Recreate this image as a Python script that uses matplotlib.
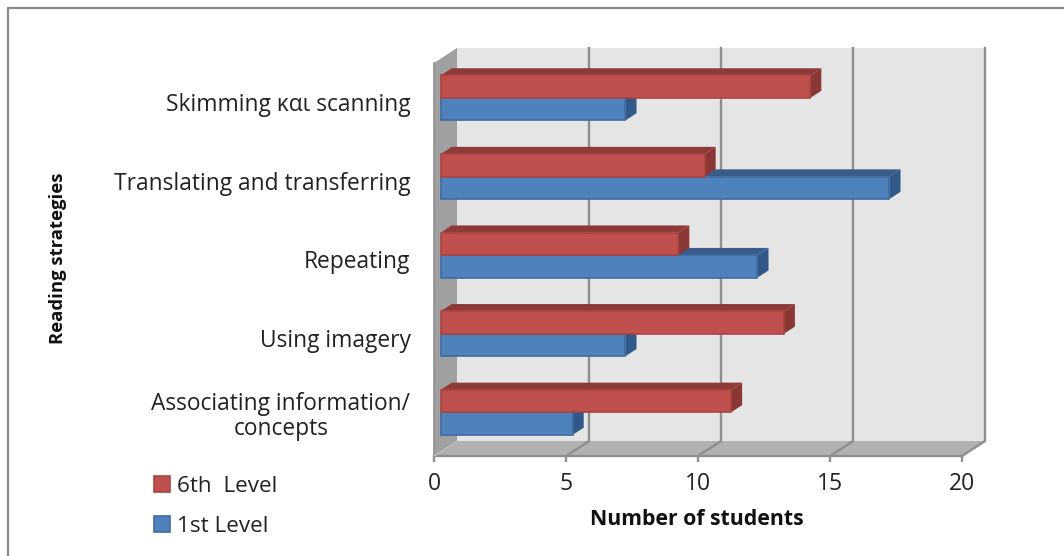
import matplotlib
matplotlib.use('Agg')
import matplotlib.pyplot as plt
from matplotlib.patches import Polygon
from matplotlib.transforms import ScaledTranslation

strategies = ['Associating information/\nconcepts', 'Using imagery', 'Repeating',
              'Translating and transferring', 'Skimming και scanning']
level_6th = [11, 13, 9, 10, 14]
level_1st = [5, 7, 12, 17, 7]
x_ticks = [0, 5, 10, 15, 20]

W, H = 1064, 556
fig = plt.figure(figsize=(W / 100, H / 100), dpi=100)
plt.rcParams['font.family'] = 'Open Sans'

# front plane of the 3d box, in pixels
left, right, top, bottom = 434, 962, 63, 456
ax = fig.add_axes([left / W, 1 - bottom / H, (right - left) / W, (bottom - top) / H])
ax.set_xlim(0, 20)
ax.set_ylim(0, 5)
for s in ax.spines.values():
    s.set_visible(False)
ax.patch.set_visible(False)

# box depth in data units
px_x = (right - left) / 20
px_y = (bottom - top) / 5
dx = 23 / px_x
dy = 15 / px_y

GRID = '#8e8e8e'


def face(points, color, z, edge='none', lw=0):
    ax.add_patch(Polygon(points, closed=True, facecolor=color, edgecolor=edge,
                         linewidth=lw, zorder=z, clip_on=False))


# walls and floor
face([(dx, dy), (20 + dx, dy), (20 + dx, 5 + dy), (dx, 5 + dy)], '#e5e5e5', 1)
face([(0, 0), (dx, dy), (dx, 5 + dy), (0, 5)], '#a0a0a0', 1)
face([(0, 0), (20, 0), (20 + dx, dy), (dx, dy)], '#b1b1b1', 1)

for t in x_ticks[1:]:
    ax.plot([t, t + dx, t + dx], [0, dy, 5 + dy], color=GRID, lw=1.7, zorder=2, clip_on=False)
ax.plot([0, 20], [0, 0], color=GRID, lw=1.7, zorder=2, clip_on=False)
ax.plot([0, 0], [0, 5], color=GRID, lw=1.2, zorder=2, clip_on=False)
ax.plot([0, dx], [0, dy], color='#bdbdbd', lw=1, zorder=2, clip_on=False)

# bars sit part way into the box
start = 0.29
depth = 0.48
bar_h = 22.5 / px_y
x0 = start * dx
y0 = start * dy
bx = depth * dx
by = depth * dy


def bar_3d(val, y, front, edge, top_col, side_col, z):
    x1 = x0 + val
    b = y + y0
    t = b + bar_h
    face([(x0, t), (x1, t), (x1 + bx, t + by), (x0 + bx, t + by)], top_col, z)
    face([(x1, b), (x1 + bx, b + by), (x1 + bx, t + by), (x1, t)], side_col, z)
    return ax.barh(b + bar_h / 2, val, height=bar_h, left=x0, color=front, edgecolor=edge,
                   linewidth=1.2, zorder=z + 0.5)


for i in range(len(strategies)):
    b1 = bar_3d(level_1st[i], i + 0.5 - bar_h, '#4f81bd', '#3f6b9f', '#385d8a', '#30598a', 3 + i)
    b6 = bar_3d(level_6th[i], i + 0.5, '#c0504d', '#a84542', '#8e3a38', '#8a3735', 3.6 + i)

ax.set_xticks(x_ticks)
ax.set_yticks([i + 0.5 for i in range(len(strategies))])
ax.set_yticklabels(strategies, fontsize=16.4, color='#222222', multialignment='center', linespacing=1.1)
ax.tick_params(axis='y', length=0, pad=17)
ax.tick_params(axis='x', length=4.5, width=1.7, color=GRID, labelsize=16.5, labelcolor='#222222', pad=7)

# two line label sits a little high
two_line = ax.get_yticklabels()[0]
two_line.set_transform(two_line.get_transform() + ScaledTranslation(0, 3 / 72, fig.dpi_scale_trans))

ax.set_xlabel('Number of students', fontsize=15.3, fontweight='bold', color='#111111')
ax.set_ylabel('Reading strategies', fontsize=13.3, fontweight='bold', color='#111111')
ax.xaxis.set_label_coords(697 / W, 1 - 509 / H, transform=fig.transFigure)
ax.yaxis.set_label_coords(67 / W, 1 - 258 / H, transform=fig.transFigure)

fig.legend([b6, b1], ['6th  Level', '1st Level'], loc='upper left',
           bbox_to_anchor=(134 / W, 1 - 456 / H), frameon=False, fontsize=16.2,
           handlelength=0.72, handleheight=0.72, handletextpad=0.28, labelspacing=0.82,
           labelcolor='#222222')

# outer frame, only top and left show
fig.add_artist(plt.Line2D([8 / W, 8 / W, 1], [0, 1 - 8 / H, 1 - 8 / H], color='#8a8a8a', lw=1.6))

fig.savefig('out.png', dpi=100)
